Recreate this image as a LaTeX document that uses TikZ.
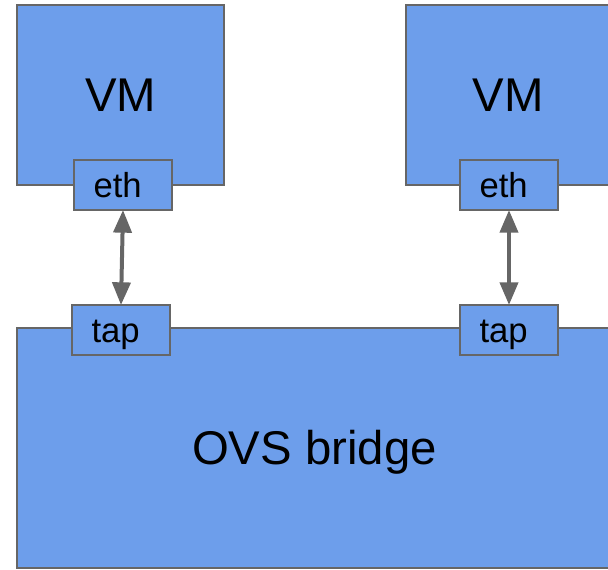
\documentclass[tikz,border=0pt]{standalone}
\usepackage{fontspec}
\setmainfont{Liberation Sans}
\usetikzlibrary{arrows.meta}

\definecolor{boxblue}{HTML}{6D9EEB}
\definecolor{edgegray}{HTML}{666666}

\tikzset{every picture/.style={line width=0.75pt}}
\tikzset{
	bigbox/.style={draw=edgegray, fill=boxblue, line width=1pt, inner sep=0pt, text height=25.4pt, text depth=0pt, font=\fontsize{35.5}{42}\selectfont},
	portbox/.style={draw=edgegray, fill=boxblue, line width=1pt, inner sep=0pt, minimum width=73.5pt, minimum height=37.5pt, text height=18.6pt, text depth=0pt, font=\fontsize{26}{30}\selectfont, execute at end node=\hspace{8pt}},
	link/.style={draw=edgegray, line width=3pt, {Triangle[length=17pt,width=13.5pt]}-{Triangle[length=17pt,width=13.5pt]}, shorten <=-0.5pt, shorten >=-0.5pt}
}

\begin{document}
\begin{tikzpicture}[x=0.75pt,y=0.75pt,yscale=-1,xscale=1]
	\useasboundingbox (0,0) rectangle (608,570);

	% bridge and its taps
	\node [bigbox, minimum width=446.25pt, minimum height=180pt] (bridge) at (314.5,448) {OVS bridge};
	\node [portbox] (tapA) at (121,330) {tap};
	\node [portbox] (tapB) at (509,330) {tap};

	% virtual machines
	\node [bigbox, minimum width=155.25pt, minimum height=135pt] (vmA) at (120.5,95) {VM};
	\node [bigbox, minimum width=153pt, minimum height=135pt] (vmB) at (508,95) {VM};
	\node [portbox] (ethA) at (123,185) {eth};
	\node [portbox] (ethB) at (509,185) {eth};

	% links
	\draw [link] (ethA.south) -- (tapA.north);
	\draw [link] (ethB.south) -- (tapB.north);

\end{tikzpicture}
\end{document}
